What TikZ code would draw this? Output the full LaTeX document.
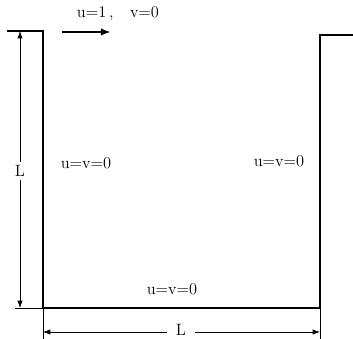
\documentclass[tikz,border=0pt]{standalone}
\usepackage{tikz}
\usetikzlibrary{arrows.meta}

\begin{document}
\begin{tikzpicture}[
	x=0.03cm, y=-0.03cm,
	% Cavity wall style
	wall/.style={
		draw=black,
		line width=1.8pt
	},
	% Dimension line style
	dim line/.style={
		draw=black,
		line width=0.6pt,
		{Latex[length=2.2mm,width=1.6mm]}-{Latex[length=2.2mm,width=1.6mm]}
	},
	% Extension line style
	ext line/.style={
		draw=black,
		line width=0.6pt
	},
	% Boundary condition label
	bc label/.style={
		font=\fontsize{14}{16}\selectfont,
		inner sep=1pt
	},
	% Dimension label
	dim label/.style={
		font=\fontsize{14}{16}\selectfont,
		fill=white,
		inner sep=3pt
	}
	]
	
	\useasboundingbox (0,0) rectangle (353,339);
	
	% ================= WALLS =================
	\coordinate (LidL) at (7,31);
	\coordinate (TL) at (43,31);
	\coordinate (BL) at (43,308);
	\coordinate (BR) at (320,308);
	\coordinate (TR) at (320,35);
	\coordinate (LidR) at (353,35);
	
	\draw[wall] (LidL) -- (TL) -- (BL) -- (BR) -- (TR) -- (LidR);
	
	% ================= LID VELOCITY =================
	\coordinate (U0) at (62,32);
	\coordinate (U1) at (111,32);
	\draw[wall, -{Latex[length=3mm,width=2.2mm]}] (U0) -- (U1);
	\node[bc label] (lid) at (118,14) {u=1\,,\quad v=0};
	
	% ================= BOUNDARY LABELS =================
	\node[bc label] (left) at (86,163) {u=v=0};
	\node[bc label] (right) at (279,161) {u=v=0};
	\node[bc label] (bottom) at (172,289) {u=v=0};
	
	% ================= DIMENSIONS =================
	\coordinate (VT) at (20,31);
	\coordinate (VB) at (20,308);
	\coordinate (EB) at (15,308);
	\draw[ext line] (EB) -- (BL);
	\draw[dim line] (VT) -- (VB);
	\node[dim label] (Lv) at (20,171) {L};
	
	\coordinate (HL) at (43,332);
	\coordinate (HR) at (320,332);
	\coordinate (EL) at (43,339);
	\coordinate (ER) at (320,339);
	\draw[ext line] (BL) -- (EL);
	\draw[ext line] (BR) -- (ER);
	\draw[dim line] (HL) -- (HR);
	\node[dim label, inner xsep=8pt] (Lh) at (181,330) {L};
	
\end{tikzpicture}
\end{document}
